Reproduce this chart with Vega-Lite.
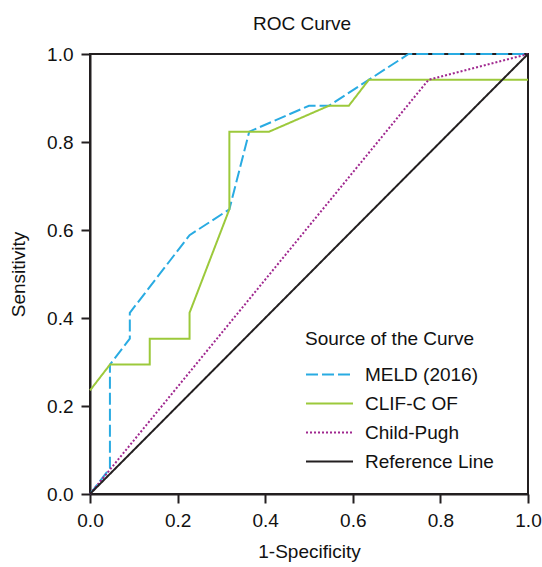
{
  "$schema": "https://vega.github.io/schema/vega-lite/v6.json",
  "width": 438,
  "height": 440,
  "autosize": {"type": "none"},
  "padding": {"left": 90, "top": 54, "right": 14, "bottom": 73},
  "background": "white",
  "title": {"text": "ROC Curve", "fontSize": 19, "fontWeight": "normal", "font": "Liberation Sans", "color": "#111", "anchor": "middle", "offset": 11, "dx": -7},
  "config": {
    "font": "Liberation Sans",
    "view": {"stroke": "#231f20", "strokeWidth": 2},
    "axis": {
      "grid": false,
      "domainColor": "#231f20",
      "domainWidth": 2,
      "tickColor": "#231f20",
      "tickWidth": 2,
      "tickSize": 9,
      "labelFontSize": 19,
      "labelColor": "#111",
      "labelPadding": 8,
      "labelFlush": false,
      "titleFontSize": 19,
      "titleFontWeight": "normal",
      "titleColor": "#111"
    }
  },
  "data": {
    "values": [
      {"s": "MELD (2016)", "i": 0, "x": 0, "y": 0},
      {"s": "MELD (2016)", "i": 1, "x": 0.0455, "y": 0.0588},
      {"s": "MELD (2016)", "i": 2, "x": 0.0455, "y": 0.2941},
      {"s": "MELD (2016)", "i": 3, "x": 0.0909, "y": 0.3529},
      {"s": "MELD (2016)", "i": 4, "x": 0.0909, "y": 0.4118},
      {"s": "MELD (2016)", "i": 5, "x": 0.2273, "y": 0.5882},
      {"s": "MELD (2016)", "i": 6, "x": 0.3182, "y": 0.6471},
      {"s": "MELD (2016)", "i": 7, "x": 0.3636, "y": 0.8235},
      {"s": "MELD (2016)", "i": 8, "x": 0.5, "y": 0.8824},
      {"s": "MELD (2016)", "i": 9, "x": 0.5455, "y": 0.8824},
      {"s": "MELD (2016)", "i": 10, "x": 0.6364, "y": 0.9412},
      {"s": "MELD (2016)", "i": 11, "x": 0.7273, "y": 1.0},
      {"s": "MELD (2016)", "i": 12, "x": 1.0, "y": 1.0},
      {"s": "CLIF-C OF", "i": 0, "x": 0, "y": 0.2353},
      {"s": "CLIF-C OF", "i": 1, "x": 0.0455, "y": 0.2941},
      {"s": "CLIF-C OF", "i": 2, "x": 0.1364, "y": 0.2941},
      {"s": "CLIF-C OF", "i": 3, "x": 0.1364, "y": 0.3529},
      {"s": "CLIF-C OF", "i": 4, "x": 0.2273, "y": 0.3529},
      {"s": "CLIF-C OF", "i": 5, "x": 0.2273, "y": 0.4118},
      {"s": "CLIF-C OF", "i": 6, "x": 0.3182, "y": 0.6471},
      {"s": "CLIF-C OF", "i": 7, "x": 0.3182, "y": 0.8235},
      {"s": "CLIF-C OF", "i": 8, "x": 0.4091, "y": 0.8235},
      {"s": "CLIF-C OF", "i": 9, "x": 0.5455, "y": 0.8824},
      {"s": "CLIF-C OF", "i": 10, "x": 0.5909, "y": 0.8824},
      {"s": "CLIF-C OF", "i": 11, "x": 0.6364, "y": 0.9412},
      {"s": "CLIF-C OF", "i": 12, "x": 1.0, "y": 0.9412},
      {"s": "Child-Pugh", "i": 0, "x": 0, "y": 0},
      {"s": "Child-Pugh", "i": 1, "x": 0.7727, "y": 0.9412},
      {"s": "Child-Pugh", "i": 2, "x": 1.0, "y": 1.0},
      {"s": "Reference Line", "i": 0, "x": 0, "y": 0},
      {"s": "Reference Line", "i": 1, "x": 1.0, "y": 1.0}
    ]
  },
  "mark": {"type": "line", "strokeWidth": 2},
  "encoding": {
    "x": {
      "field": "x", "type": "quantitative", "title": "1-Specificity",
      "scale": {"domain": [0, 1], "nice": false, "zero": false},
      "axis": {"values": [0, 0.2, 0.4, 0.6, 0.8, 1.0], "format": ".1f", "titlePadding": 12}
    },
    "y": {
      "field": "y", "type": "quantitative", "title": "Sensitivity",
      "scale": {"domain": [0, 1], "nice": false, "zero": false},
      "axis": {"values": [0, 0.2, 0.4, 0.6, 0.8, 1.0], "format": ".1f", "titlePadding": 18}
    },
    "order": {"field": "i", "type": "quantitative"},
    "color": {
      "field": "s", "type": "nominal", "title": "Source of the Curve",
      "scale": {"domain": ["MELD (2016)", "CLIF-C OF", "Child-Pugh", "Reference Line"], "range": ["#29abe2", "#9cc93b", "#a0288f", "#231f20"]},
      "legend": {
        "orient": "none", "legendX": 215, "legendY": 276,
        "titleFontSize": 19, "titleFontWeight": "normal", "titleColor": "#111", "titlePadding": 12,
        "labelFontSize": 19, "labelColor": "#111", "labelOffset": 11,
        "symbolType": "stroke", "symbolSize": 2209, "symbolStrokeWidth": 2,
        "clipHeight": 27, "rowPadding": 2
      }
    },
    "strokeDash": {
      "field": "s", "type": "nominal", "title": "Source of the Curve",
      "scale": {"domain": ["MELD (2016)", "CLIF-C OF", "Child-Pugh", "Reference Line"], "range": [[12, 4], [1, 0], [2, 2], [1, 0]]}
    }
  }
}
